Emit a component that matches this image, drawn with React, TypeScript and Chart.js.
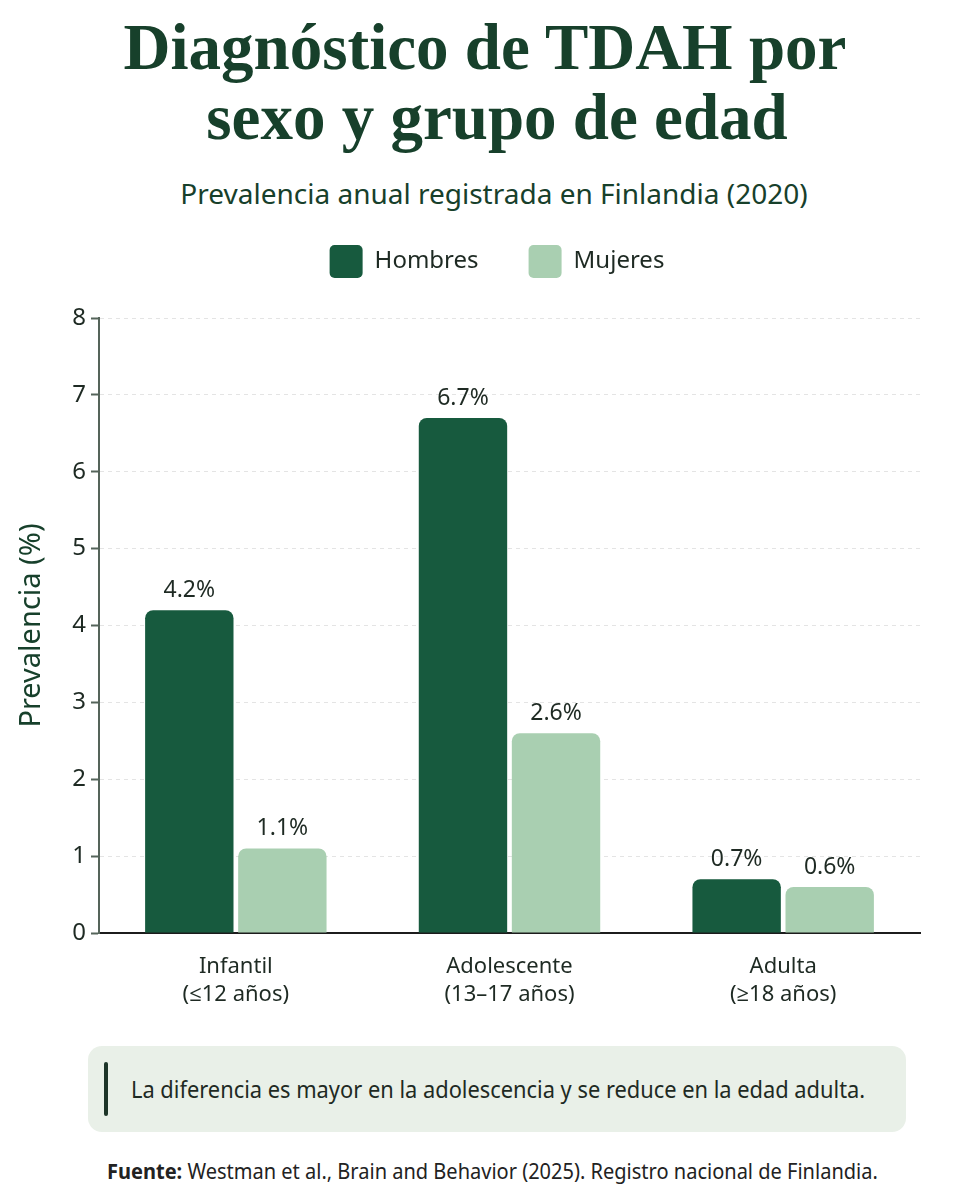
import React, { useEffect, useRef } from 'react';
import { Chart, registerables } from 'chart.js';

Chart.register(...registerables);

// Age groups shown on the x axis (two-line labels)
const categories: string[][] = [
  ['Infantil', '(≤12 años)'],
  ['Adolescente', '(13–17 años)'],
  ['Adulta', '(≥18 años)'],
];

// Annual prevalence (%) by sex
const hombres: number[] = [4.2, 6.7, 0.7];
const mujeres: number[] = [1.1, 2.6, 0.6];

const seriesNames: string[] = ['Hombres', 'Mujeres'];
const yMax = 8;
const yStep = 1;

const DARK_GREEN = '#175a3e';
const LIGHT_GREEN = '#a9cfb1';
const INK = '#1e2a23';
const TITLE_GREEN = '#17402b';
const SANS = '"Noto Sans", "Open Sans", sans-serif';

// Percent labels above each bar
const valueLabels = {
  id: 'valueLabels',
  afterDatasetsDraw(chart: any) {
    const { ctx } = chart;
    ctx.save();
    ctx.font = `23px ${SANS}`;
    ctx.fillStyle = INK;
    ctx.textAlign = 'center';
    ctx.textBaseline = 'bottom';
    chart.data.datasets.forEach((ds: any, i: number) => {
      chart.getDatasetMeta(i).data.forEach((bar: any, j: number) => {
        ctx.fillText(`${Number(ds.data[j]).toFixed(1)}%`, bar.x, bar.y - 8);
      });
    });
    ctx.restore();
  },
};

// Legend block: fixed height above the plot, horizontally centred a bit right
const legendPlacement = {
  id: 'legendPlacement',
  beforeInit(chart: any) {
    const legend = chart.legend;
    if (!legend) return;
    const fit = legend.fit;
    legend.fit = function () {
      fit.call(this);
      this.height = 123;
    };
  },
  beforeDraw(chart: any) {
    const legend = chart.legend;
    if (!legend) return;
    legend.left = 74;
    legend.right = 920;
  },
};

function BarChart() {
  const ref = useRef<HTMLCanvasElement | null>(null);

  useEffect(() => {
    if (!ref.current) return;
    const barStyle = {
      borderRadius: { topLeft: 8, topRight: 8, bottomLeft: 0, bottomRight: 0 },
      borderSkipped: false,
      barPercentage: 0.95,
      categoryPercentage: 0.68,
    };
    const chart = new Chart(ref.current, {
      type: 'bar',
      data: {
        labels: categories,
        datasets: [
          { label: seriesNames[0], data: hombres, backgroundColor: DARK_GREEN, ...barStyle },
          { label: seriesNames[1], data: mujeres, backgroundColor: LIGHT_GREEN, ...barStyle },
        ],
      },
      options: {
        responsive: false,
        animation: false,
        maintainAspectRatio: false,
        layout: { padding: { top: 0, right: 40, bottom: 0, left: 0 } },
        plugins: {
          legend: {
            display: true,
            position: 'top',
            labels: {
              boxWidth: 33,
              boxHeight: 33,
              useBorderRadius: true,
              borderRadius: 5,
              padding: 50,
              color: INK,
              font: { family: SANS, size: 24 },
            },
          },
          tooltip: { enabled: false },
        },
        scales: {
          x: {
            grid: { display: false },
            border: { display: true, color: '#1c1c1c', width: 2 },
            ticks: {
              color: INK,
              font: { family: SANS, size: 22, lineHeight: 1.27 },
              padding: 12,
            },
            afterFit(scale: any) {
              scale.height = 97;
            },
          },
          y: {
            min: 0,
            max: yMax,
            ticks: {
              stepSize: yStep,
              color: INK,
              font: { family: SANS, size: 24 },
              padding: 5,
            },
            grid: {
              color: '#e4e4e4',
              lineWidth: 1,
              drawTicks: true,
              tickLength: 8,
              tickColor: '#55645a',
              tickWidth: 2,
            },
            border: { display: true, color: '#55645a', width: 2, dash: [4, 4] },
            title: {
              display: true,
              text: 'Prevalencia (%)',
              color: TITLE_GREEN,
              font: { family: SANS, size: 29 },
              padding: { top: 14, bottom: 0 },
            },
            afterFit(scale: any) {
              scale.width = 99;
            },
          },
        },
      },
      plugins: [valueLabels, legendPlacement],
    });
    return () => chart.destroy();
  }, []);

  return (
    <canvas
      ref={ref}
      width={960}
      height={835}
      style={{ position: 'absolute', left: 0, top: 195, width: 960, height: 835 }}
    />
  );
}

const titleLine = {
  position: 'absolute' as const,
  left: 0,
  width: 960,
  textAlign: 'center' as const,
  fontFamily: '"Liberation Serif", serif',
  fontWeight: 700,
  fontSize: 65,
  lineHeight: '70px',
  color: TITLE_GREEN,
  whiteSpace: 'nowrap' as const,
};

export default function App() {
  return (
    <div
      style={{
        position: 'absolute',
        left: 0,
        top: 0,
        width: 960,
        height: 1200,
        background: '#ffffff',
        fontFamily: SANS,
        overflow: 'hidden',
      }}
    >
      <div style={{ ...titleLine, top: 12, left: 5 }}>Diagnóstico de TDAH por</div>
      <div style={{ ...titleLine, top: 82, left: 17 }}>sexo y grupo de edad</div>
      <div
        style={{
          position: 'absolute',
          top: 173,
          left: 14,
          width: 960,
          textAlign: 'center',
          fontSize: 28,
          lineHeight: '40px',
          color: TITLE_GREEN,
        }}
      >
        Prevalencia anual registrada en Finlandia (2020)
      </div>

      <BarChart />

      <div
        style={{
          position: 'absolute',
          left: 88,
          top: 1046,
          width: 818,
          height: 86,
          background: '#e9f0e8',
          borderRadius: 14,
        }}
      >
        <div
          style={{
            position: 'absolute',
            left: 16,
            top: 16,
            width: 4,
            height: 54,
            borderRadius: 2,
            background: '#1d3528',
          }}
        />
        <div
          style={{
            position: 'absolute',
            left: 43,
            top: 0,
            height: 86,
            lineHeight: '86px',
            fontSize: 24,
            color: INK,
            whiteSpace: 'nowrap',
            transformOrigin: 'left center',
            transform: 'scaleX(0.91)',
          }}
        >
          La diferencia es mayor en la adolescencia y se reduce en la edad adulta.
        </div>
      </div>

      <div
        style={{
          position: 'absolute',
          left: 107,
          top: 1155,
          fontSize: 22,
          lineHeight: '30px',
          color: '#222',
          whiteSpace: 'nowrap',
          transformOrigin: 'left center',
          transform: 'scaleX(0.91)',
        }}
      >
        <b>Fuente:</b> Westman et al., Brain and Behavior (2025). Registro nacional de Finlandia.
      </div>
    </div>
  );
}
